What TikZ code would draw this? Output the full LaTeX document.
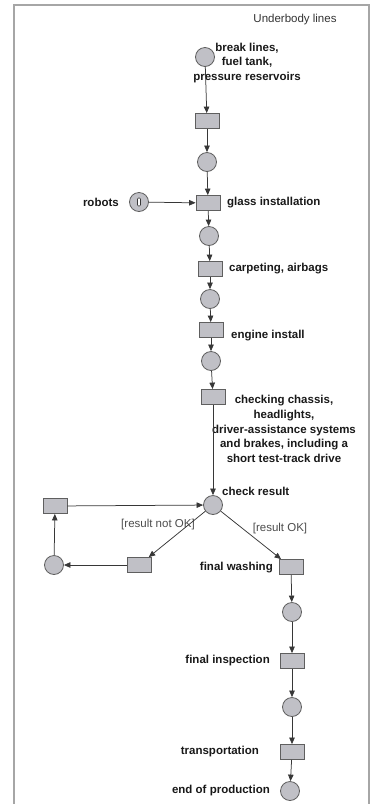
\documentclass[tikz,border=0pt]{standalone}
\usepackage{fontspec}
\setmainfont{Liberation Sans}
\usetikzlibrary{positioning, arrows.meta}

\definecolor{placefill}{RGB}{192,192,198}
\definecolor{edgegray}{RGB}{55,55,55}

\tikzset{
  place/.style={circle, draw=edgegray!80, fill=placefill, line width=0.8pt,
    minimum size=19pt, inner sep=0pt},
  trans/.style={rectangle, draw=edgegray!80, fill=placefill, line width=0.8pt,
    minimum width=24pt, minimum height=15pt, inner sep=0pt},
  lbl/.style={font=\fontsize{11.5}{14.8}\selectfont\bfseries, text=black!90,
    inner sep=0pt, align=center},
  guard/.style={font=\fontsize{11.5}{13}\selectfont, text=black!70, inner sep=0pt},
  arc/.style={draw=edgegray, line width=0.75pt, -{Triangle[length=6.5pt,width=5.5pt]}}
}

\begin{document}
\begin{tikzpicture}[x=1pt, y=-1pt]
\useasboundingbox (0,0) rectangle (371,804);
\draw[black!35, line width=1.5pt] (14,812) -- (14,5) -- (369,5) -- (369,812);
\node[guard, text=black!80] (title) at (295,20) {Underbody lines};

% main line
\node[place] (p1) at (205,57) {};
\node[trans] (t1) at (207,121) {};
\node[place] (p2) at (207,162) {};
\node[trans] (t2) at (208,203) {};
\node[place] (robots) at (139,202) {};
\node[draw=edgegray, fill=white, line width=0.6pt, rounded corners=1pt,
  minimum width=3pt, minimum height=8pt, inner sep=0pt] (token) at (robots) {};
\node[place] (p3) at (209,236) {};
\node[trans] (t3) at (210,269) {};
\node[place] (p4) at (210,299) {};
\node[trans] (t4) at (211,330) {};
\node[place] (p5) at (211,361) {};
\node[trans] (t5) at (213,397) {};
\node[place] (check) at (213,505) {};

% rework loop
\node[trans] (redo) at (139,565) {};
\node[place] (pr) at (54,565) {};
\node[trans] (back) at (55,506) {};

% final steps
\node[trans] (t6) at (291,567) {};
\node[place] (p6) at (292,612) {};
\node[trans] (t7) at (292,661) {};
\node[place] (p7) at (292,707) {};
\node[trans] (t8) at (292,752) {};
\node[place] (p8) at (290,791) {};

% labels
\node[lbl] (l1) at (247,63) {break lines,\\fuel tank,\\pressure reservoirs};
\node[lbl, anchor=east] (lrob) at (119,202) {robots};
\node[lbl, anchor=west] (l2) at (227,203) {glass installation};
\node[lbl, anchor=west] (l3) at (229,269) {carpeting, airbags};
\node[lbl, anchor=west] (l4) at (231,336) {engine install};
\node[lbl] (l5) at (284,429) {checking chassis,\\headlights,\\driver-assistance systems\\and brakes, including a\\short test-track drive};
\node[lbl, anchor=west] (lcheck) at (222,491) {check result};
\node[lbl, anchor=east] (l6) at (273,568) {final washing};
\node[lbl, anchor=east] (l7) at (270,661) {final inspection};
\node[lbl, anchor=east] (l8) at (259,752) {transportation};
\node[lbl, anchor=east] (l9) at (270,791) {end of production};
\node[guard] (gno) at (158,525) {[result not OK]};
\node[guard] (gok) at (280,529) {[result OK]};

\draw
    (p1) edge[arc] (t1)
    (t1) edge[arc] (p2)
    (p2) edge[arc] (t2)
    (robots) edge[arc] (t2)
    (t2) edge[arc] (p3)
    (p3) edge[arc] (t3)
    (t3) edge[arc] (p4)
    (p4) edge[arc] (t4)
    (t4) edge[arc] (p5)
    (p5) edge[arc] (t5)
    (t5) edge[arc] (check)
    (check) edge[arc] (redo)
    (redo) edge[arc] (pr)
    (pr) edge[arc] (back)
    (back) edge[arc] (check)
    (check) edge[arc] (t6)
    (t6) edge[arc] (p6)
    (p6) edge[arc] (t7)
    (t7) edge[arc] (p7)
    (p7) edge[arc] (t8)
    (t8) edge[arc] (p8);
\end{tikzpicture}
\end{document}
